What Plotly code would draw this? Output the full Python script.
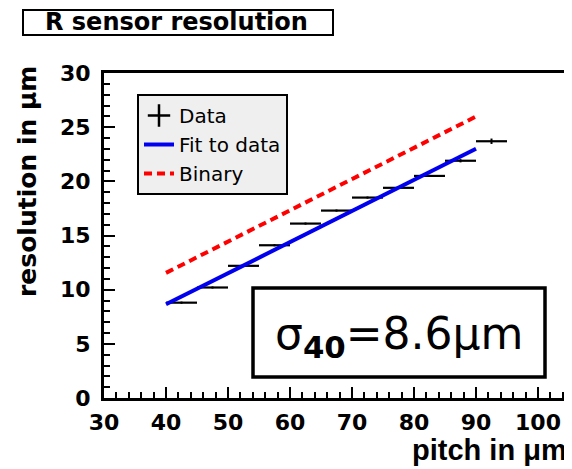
import plotly.graph_objects as go

# ---- data ----
pitch = [42.5, 47.5, 52.5, 57.5, 62.5, 67.5, 72.5, 77.5, 82.5, 87.5, 92.5]
pitch_half_bin = [2.5] * 11
resolution = [8.8, 10.2, 12.2, 14.1, 16.1, 17.3, 18.5, 19.4, 20.5, 21.9, 23.7]
resolution_err = [0.1, 0.1, 0.1, 0.1, 0.1, 0.1, 0.1, 0.1, 0.1, 0.15, 0.25]
fit_x = [40, 90]
fit_y = [8.65, 23.0]
binary_x = [40, 90]
binary_y = [11.55, 25.98]
x_ticks = [30, 40, 50, 60, 70, 80, 90, 100]
y_ticks = [0, 5, 10, 15, 20, 25, 30]

# page is rendered with an 8px body margin: build the figure 8px smaller
OFF = 8
PAGE_W, PAGE_H = 572, 469
W, H = PAGE_W - OFF, PAGE_H - OFF
# plot area in page pixels
L, R, T, B = 104, 569, 73, 398

def px(x):
    return (x - L) / (R - L)

def py(y):
    return (B - y) / (B - T)

fig = go.Figure()
fig.add_trace(go.Scatter(
    x=pitch, y=resolution, mode="markers", showlegend=False,
    marker=dict(size=1, color="black"),
    error_x=dict(type="data", array=pitch_half_bin, width=0, thickness=2.2, color="black"),
    error_y=dict(type="data", array=resolution_err, width=0, thickness=2, color="black"),
))
fig.add_trace(go.Scatter(
    x=[None], y=[None], mode="markers", name="Data",
    marker=dict(symbol="cross-thin", size=20, color="black", line=dict(width=2.5, color="black")),
))
fig.add_trace(go.Scatter(
    x=fit_x, y=fit_y, mode="lines", name="Fit to data",
    line=dict(color="#0000ee", width=4),
))
fig.add_trace(go.Scatter(
    x=binary_x, y=binary_y, mode="lines", name="Binary",
    line=dict(color="#ff0000", width=4, dash="8px,5px"),
))

tickfont = dict(family="DejaVu Sans", size=22, color="black", weight="bold")
fig.update_xaxes(
    range=[30, 105], tickvals=x_ticks, ticks="inside", ticklen=11, tickwidth=2,
    tickcolor="black", showline=True, linewidth=3, linecolor="black", mirror=True,
    showgrid=False, zeroline=False, tickfont=tickfont, ticklabelstandoff=3,
    minor=dict(dtick=2, ticks="inside", ticklen=6, tickwidth=2, tickcolor="black", showgrid=False),
)
fig.update_yaxes(
    range=[0, 30], tickvals=y_ticks, ticks="inside", ticklen=11, tickwidth=2,
    tickcolor="black", showline=True, linewidth=3, linecolor="black", mirror=False,
    showgrid=False, zeroline=False, tickfont=tickfont, ticklabelstandoff=6,
    minor=dict(dtick=1, ticks="inside", ticklen=6, tickwidth=2, tickcolor="black", showgrid=False),
)

shapes = [
    dict(type="line", xref="paper", yref="paper", x0=1, x1=1, y0=0, y1=1,
         line=dict(color="black", width=1.5)),
    dict(type="rect", xref="paper", yref="paper", x0=px(23), x1=px(333), y0=py(35), y1=py(10),
         line=dict(color="black", width=2), fillcolor="white"),
    dict(type="rect", xref="paper", yref="paper", x0=px(253), x1=px(545), y0=py(377), y1=py(288),
         line=dict(color="black", width=3.5), fillcolor="white"),
]

annotations = [
    dict(text="R sensor resolution", xref="paper", yref="paper", x=px(176), y=py(22.5),
         xanchor="center", yanchor="middle", showarrow=False,
         font=dict(family="DejaVu Sans", size=24, color="black", weight="bold")),
    dict(text="σ<sub><b>40</b></sub>=8.6μm", xref="paper", yref="paper", x=px(399), y=py(336),
         xanchor="center", yanchor="middle", showarrow=False,
         font=dict(family="DejaVu Sans", size=44, color="black")),
    dict(text="resolution in μm", xref="paper", yref="paper", x=px(27), y=py(182),
         xanchor="center", yanchor="middle", textangle=-90, showarrow=False,
         font=dict(family="DejaVu Sans", size=25, color="black", weight="bold")),
    dict(text="pitch in μm", xref="paper", yref="paper", x=px(569), y=py(450),
         xanchor="right", yanchor="middle", showarrow=False,
         font=dict(family="Liberation Sans", size=29, color="black", weight="bold")),
]

fig.update_layout(
    width=W, height=H,
    margin=dict(l=L - OFF, r=PAGE_W - R, t=T - OFF, b=PAGE_H - B),
    paper_bgcolor="white", plot_bgcolor="white",
    shapes=shapes, annotations=annotations,
    legend=dict(x=px(137), y=py(94), xanchor="left", yanchor="top",
                bgcolor="#efefef", bordercolor="black", borderwidth=2,
                font=dict(family="DejaVu Sans", size=20, color="black"),
                tracegroupgap=0, itemwidth=30),
)

fig.write_html("out.html")
